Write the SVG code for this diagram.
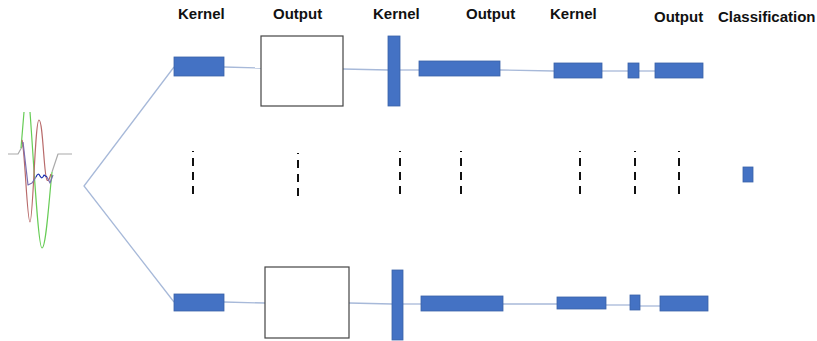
<svg xmlns="http://www.w3.org/2000/svg" width="817" height="341" viewBox="0 0 817 341">
  <style>
    .lbl { font-family: "Liberation Sans", Arial, sans-serif; font-weight: bold; font-size: 15px; fill: #111; }
    .k { fill: #4472C4; stroke: #3A62A8; stroke-width: 0.8; }
    .box { fill: #fff; stroke: #444; stroke-width: 1.2; }
    .con { stroke: #A7B9D9; stroke-width: 1.3; fill: none; }
    .dash { stroke: #111; stroke-width: 2; stroke-dasharray: 8 6; stroke-dashoffset: 7; }
    .w { fill: none; stroke-width: 1.2; stroke-linejoin: round; }
  </style>
  <rect width="817" height="341" fill="#fff"/>

  <g id="labels">
    <text class="lbl" x="178" y="19">Kernel</text>
    <text class="lbl" x="273" y="19">Output</text>
    <text class="lbl" x="373" y="19">Kernel</text>
    <text class="lbl" x="466" y="19">Output</text>
    <text class="lbl" x="550" y="19">Kernel</text>
    <text class="lbl" x="654" y="22">Output</text>
    <text class="lbl" x="718" y="22">Classification</text>
  </g>

  <g id="signal">
    <path class="w" stroke="#aaaaaa" d="M8,154 L18,154 L23,145 M52,172 L58,154 L72,154"/>
    <path class="w" stroke="#66CC55" d="M21,148 L24,112 M30,112 C33,150 38,248 42,248 C46,248 49,200 52,172"/>
    <path class="w" stroke="#B86A6A" d="M22,140 C25,150 27,222 30,222 C33,222 35,120 39,120 C43,120 44,178 47,180 C49,182 50,176 51,174"/>
    <path class="w" stroke="#7A6FB0" d="M23,142 L28,185 L32,183 L36,177 M47,177 L50,183 L53,175"/>
    <path class="w" stroke="#1A2FB0" stroke-width="1.8" d="M36,177 Q38,172 40,176 Q42,180 44,175 L47,177"/>
  </g>

  <g id="connectors">
    <polyline class="con" points="174,67 84,186 174,302"/>
    <line class="con" x1="224" y1="67" x2="261" y2="68"/>
    <line class="con" x1="343" y1="69" x2="388" y2="70"/>
    <line class="con" x1="400" y1="70" x2="419" y2="70"/>
    <line class="con" x1="500" y1="70" x2="554" y2="71"/>
    <line class="con" x1="602" y1="71" x2="628" y2="71"/>
    <line class="con" x1="639" y1="71" x2="655" y2="71"/>
    <line class="con" x1="224" y1="302" x2="265" y2="303"/>
    <line class="con" x1="349" y1="303" x2="392" y2="304"/>
    <line class="con" x1="403" y1="304" x2="421" y2="304"/>
    <line class="con" x1="503" y1="304" x2="557" y2="304"/>
    <line class="con" x1="606" y1="305" x2="630" y2="305"/>
    <line class="con" x1="640" y1="306" x2="660" y2="306"/>
  </g>

  <g id="top-row">
    <rect id="top-kernel1" class="k" x="174" y="57" width="50" height="19"/>
    <rect id="top-output1" class="box" x="261" y="36" width="82" height="70"/>
    <rect id="top-kernel2" class="k" x="388" y="36" width="12" height="70"/>
    <rect id="top-output2" class="k" x="419" y="61" width="81" height="15"/>
    <rect id="top-kernel3" class="k" x="554" y="63" width="48" height="15"/>
    <rect id="top-pool" class="k" x="628" y="63" width="11" height="15"/>
    <rect id="top-output3" class="k" x="655" y="63" width="48" height="15"/>
  </g>

  <g id="bottom-row">
    <rect id="bot-kernel1" class="k" x="174" y="294" width="50" height="17"/>
    <rect id="bot-output1" class="box" x="265" y="267" width="84" height="71"/>
    <rect id="bot-kernel2" class="k" x="392" y="270" width="11" height="70"/>
    <rect id="bot-output2" class="k" x="421" y="296" width="82" height="15"/>
    <rect id="bot-kernel3" class="k" x="557" y="297" width="49" height="12"/>
    <rect id="bot-pool" class="k" x="630" y="295" width="10" height="15"/>
    <rect id="bot-output3" class="k" x="660" y="296" width="48" height="15"/>
  </g>

  <g id="ellipsis">
    <line class="dash" x1="193" y1="151" x2="193" y2="196"/>
    <line class="dash" x1="298" y1="153" x2="298" y2="198"/>
    <line class="dash" x1="400" y1="151" x2="400" y2="196"/>
    <line class="dash" x1="461" y1="151" x2="461" y2="196"/>
    <line class="dash" x1="580" y1="151" x2="580" y2="196"/>
    <line class="dash" x1="635" y1="151" x2="635" y2="196"/>
    <line class="dash" x1="679" y1="151" x2="679" y2="196"/>
  </g>

  <g id="classification">
    <rect class="k" x="743" y="167" width="10" height="15"/>
  </g>
</svg>
